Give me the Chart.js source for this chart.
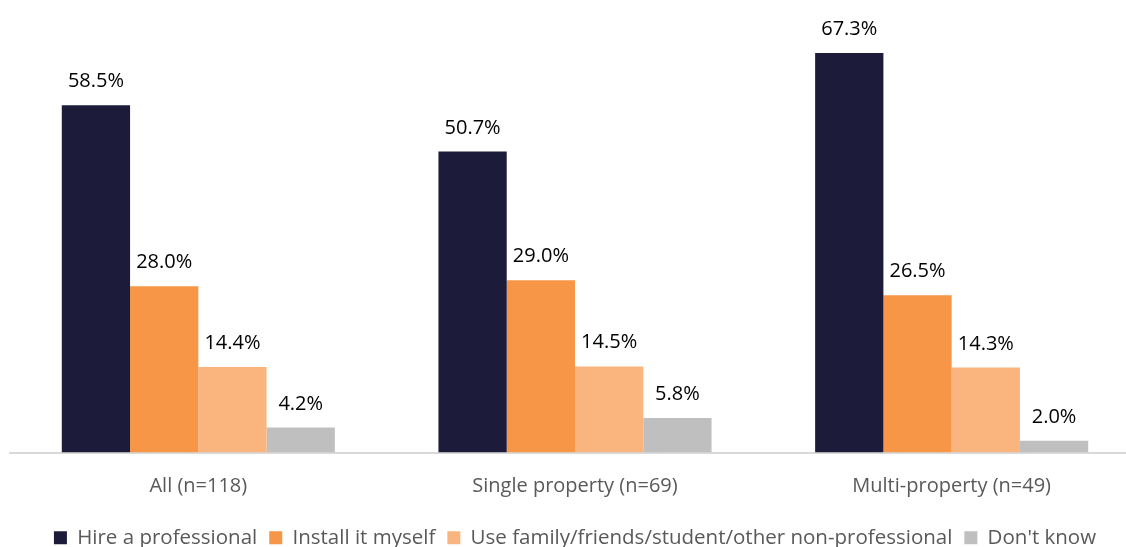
<!DOCTYPE html>
<html>
<head>
<meta charset="utf-8">
<script src="https://cdn.jsdelivr.net/npm/chart.js@4/dist/chart.umd.min.js"></script>
<style>
  html, body { margin: 0; padding: 0; background: #fff; overflow: hidden; }
  #wrap { width: 1140px; height: 547px; position: relative; }
</style>
</head>
<body>
<div id="wrap"><canvas id="chartInstall"></canvas></div>
<script>
// Datos del gráfico
const categories = ['All (n=118)', 'Single property (n=69)', 'Multi-property (n=49)'];
const seriesNames = ['Hire a professional', 'Install it myself', 'Use family/friends/student/other non-professional', "Don't know"];
const hireProfessional = [58.5, 50.7, 67.3];
const installMyself = [28.0, 29.0, 26.5];
const familyFriends = [14.4, 14.5, 14.3];
const dontKnow = [4.2, 5.8, 2.0];

// Colores
const colorNavy = '#1c1c3a';
const colorOrange = '#f79646';
const colorLightOrange = '#fab57e';
const colorGrey = '#bfbfbf';

const fontFamily = '"Open Sans", "Noto Sans", sans-serif';

// Etiquetas de valor encima de cada barra
const valueLabels = {
    id: 'valueLabels',
    afterDatasetsDraw(chart) {
        const ctx = chart.ctx;
        ctx.save();
        ctx.font = '20px ' + fontFamily;
        ctx.fillStyle = '#000000';
        ctx.textAlign = 'center';
        ctx.textBaseline = 'alphabetic';
        chart.data.datasets.forEach((ds, i) => {
            chart.getDatasetMeta(i).data.forEach((bar, j) => {
                ctx.fillText(ds.data[j].toFixed(1) + '%', bar.x, bar.y - 18);
            });
        });
        ctx.restore();
    }
};

new Chart(document.getElementById('chartInstall'), {
    type: 'bar',
    data: {
        labels: categories,
        datasets: [
            { label: seriesNames[0], data: hireProfessional, backgroundColor: colorNavy },
            { label: seriesNames[1], data: installMyself, backgroundColor: colorOrange },
            { label: seriesNames[2], data: familyFriends, backgroundColor: colorLightOrange },
            { label: seriesNames[3], data: dontKnow, backgroundColor: colorGrey }
        ]
    },
    options: {
        responsive: true,
        maintainAspectRatio: false,
        animation: false,
        datasets: { bar: { categoryPercentage: 0.725, barPercentage: 1.0 } },
        layout: { padding: { left: 10, right: 0, top: 37, bottom: -11 } },
        plugins: {
            legend: {
                position: 'bottom',
                labels: {
                    boxWidth: 13,
                    boxHeight: 13,
                    padding: 12,
                    color: '#595959',
                    font: { family: fontFamily, size: 20.5 }
                }
            },
            tooltip: { enabled: false }
        },
        scales: {
            y: {
                display: false,
                min: 0,
                max: 70
            },
            x: {
                grid: { display: false },
                border: { display: true, color: '#d9d9d9', width: 2 },
                ticks: {
                    color: '#595959',
                    padding: 14,
                    font: { family: fontFamily, size: 20 }
                },
                afterFit: function (scale) { scale.height += 3; } // espacio extra antes de la leyenda
            }
        }
    },
    plugins: [valueLabels]
});
</script>
</body>
</html>
